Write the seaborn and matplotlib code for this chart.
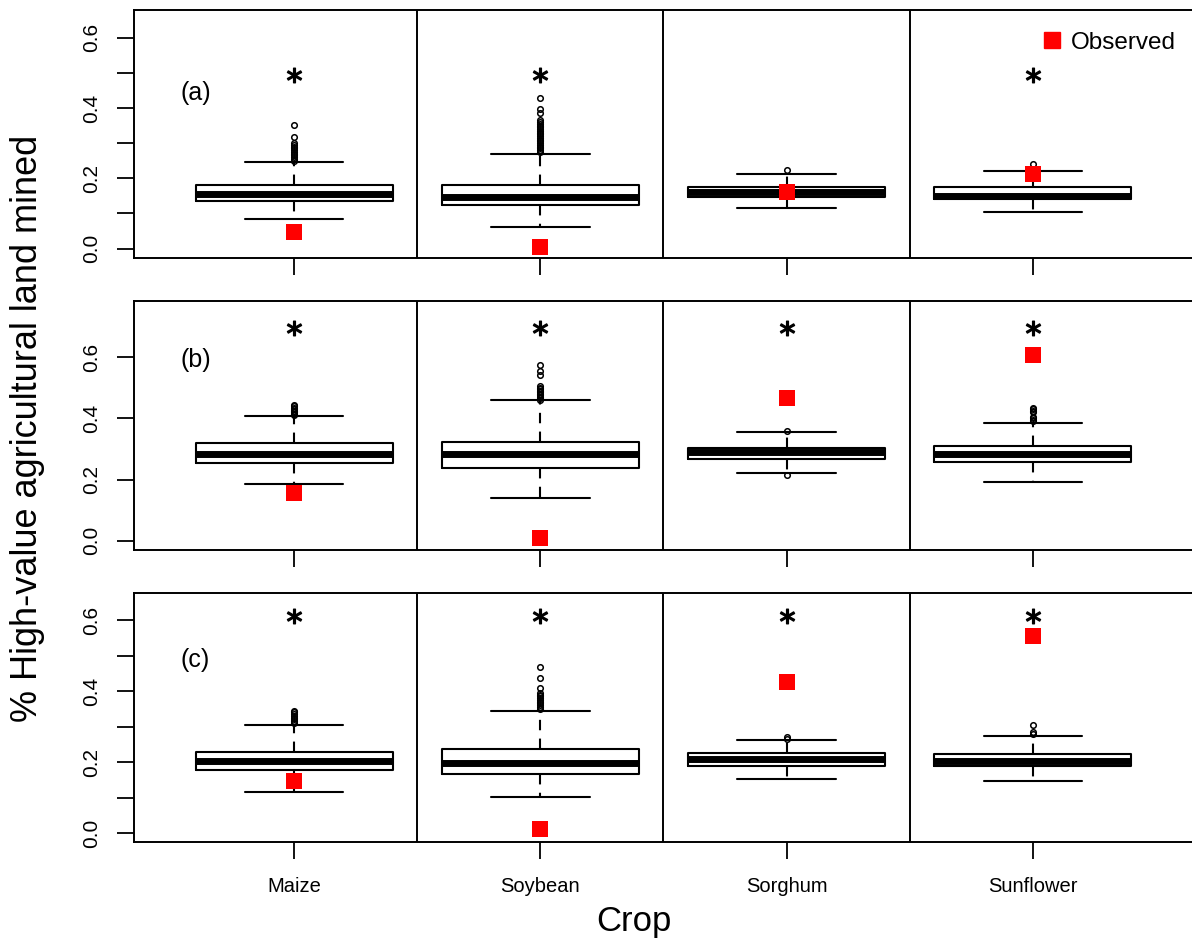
import numpy as np
import matplotlib
matplotlib.use("Agg")
import matplotlib.pyplot as plt
from matplotlib.lines import Line2D
import seaborn as sns

# crops along the x axis
crops = ["Maize", "Soybean", "Sorghum", "Sunflower"]
panel_labels = ["(a)", "(b)", "(c)"]

# panel (a): box statistics per crop
a_q1 = [0.134, 0.123, 0.146, 0.140]
a_med = [0.154, 0.148, 0.160, 0.150]
a_q3 = [0.180, 0.182, 0.174, 0.174]
a_lo = [0.083, 0.060, 0.114, 0.103]
a_hi = [0.245, 0.270, 0.212, 0.220]
a_obs = [0.046, 0.003, 0.160, 0.212]
a_fliers = [
    [0.250, 0.255, 0.260, 0.265, 0.270, 0.275, 0.280, 0.285, 0.290, 0.295, 0.300, 0.317, 0.351],
    [0.275, 0.280, 0.285, 0.290, 0.295, 0.300, 0.305, 0.310, 0.315, 0.320, 0.325, 0.330,
     0.335, 0.340, 0.345, 0.350, 0.355, 0.360, 0.365, 0.385, 0.397, 0.428],
    [0.223],
    [0.240],
]
a_stars = ["Maize", "Soybean", "Sunflower"]
a_star_y = 0.494

# panel (b)
b_q1 = [0.254, 0.238, 0.267, 0.258]
b_med = [0.283, 0.283, 0.290, 0.283]
b_q3 = [0.319, 0.323, 0.304, 0.311]
b_lo = [0.186, 0.140, 0.222, 0.193]
b_hi = [0.407, 0.459, 0.355, 0.384]
b_obs = [0.156, 0.010, 0.466, 0.606]
b_fliers = [
    [0.410, 0.415, 0.420, 0.425, 0.430, 0.435, 0.440, 0.445],
    [0.460, 0.465, 0.470, 0.475, 0.480, 0.485, 0.490, 0.495, 0.500, 0.505, 0.540, 0.555, 0.573],
    [0.360, 0.214],
    [0.390, 0.395, 0.400, 0.405, 0.420, 0.425, 0.430, 0.435],
]
b_stars = ["Maize", "Soybean", "Sorghum", "Sunflower"]
b_star_y = 0.695

# panel (c)
c_q1 = [0.177, 0.166, 0.189, 0.189]
c_med = [0.203, 0.197, 0.210, 0.202]
c_q3 = [0.228, 0.237, 0.225, 0.223]
c_lo = [0.115, 0.101, 0.152, 0.146]
c_hi = [0.304, 0.344, 0.262, 0.273]
c_obs = [0.146, 0.011, 0.425, 0.555]
c_fliers = [
    [0.310, 0.315, 0.320, 0.325, 0.330, 0.335, 0.340, 0.345],
    [0.350, 0.355, 0.360, 0.365, 0.370, 0.375, 0.380, 0.385, 0.390, 0.395, 0.409, 0.437, 0.468],
    [0.265, 0.270],
    [0.280, 0.285, 0.305],
]
c_stars = ["Maize", "Soybean", "Sorghum", "Sunflower"]
c_star_y = 0.611

panels = [
    (a_q1, a_med, a_q3, a_lo, a_hi, a_obs, a_fliers, a_stars, a_star_y),
    (b_q1, b_med, b_q3, b_lo, b_hi, b_obs, b_fliers, b_stars, b_star_y),
    (c_q1, c_med, c_q3, c_lo, c_hi, c_obs, c_fliers, c_stars, c_star_y),
]
y_limits = [(-0.027, 0.679), (-0.030, 0.784), (-0.025, 0.676)]
y_ticks = [np.arange(0, 0.61, 0.1), np.arange(0, 0.61, 0.2), np.arange(0, 0.61, 0.1)]
label_y = [0.442, 0.590, 0.487]

sns.set_style("ticks")
plt.rcParams["font.family"] = ["Liberation Sans", "DejaVu Sans"]
plt.rcParams["text.color"] = "black"
plt.rcParams["xtick.color"] = "black"
plt.rcParams["ytick.color"] = "black"
plt.rcParams["axes.labelcolor"] = "black"

W, H = 1192, 944
fig = plt.figure(figsize=(W / 100, H / 100), dpi=100)
rows_px = [(10, 258), (300.7, 550), (593, 842)]
pos = np.arange(len(crops))

for r, (q1, med, q3, lo, hi, obs, fliers, stars, star_y) in enumerate(panels):
    top, bot = rows_px[r]
    ax = fig.add_axes([134 / W, 1 - bot / H, 1059 / W, (bot - top) / H])

    stats = [dict(q1=q1[i], med=med[i], q3=q3[i], whislo=lo[i], whishi=hi[i],
                  fliers=fliers[i]) for i in range(len(crops))]
    ax.bxp(stats, positions=pos, widths=0.8, capwidths=0.4, manage_ticks=False,
           boxprops=dict(color="black", linewidth=1.5),
           medianprops=dict(color="black", linewidth=5, solid_capstyle="butt"),
           whiskerprops=dict(color="black", linewidth=1.5, linestyle=(0, (5, 4))),
           capprops=dict(color="black", linewidth=1.5),
           flierprops=dict(marker="o", markerfacecolor="none", markeredgecolor="black",
                           markersize=4, markeredgewidth=1.1))

    # observed values
    sns.scatterplot(x=pos, y=obs, marker="s", color="red", s=130, linewidth=0,
                    ax=ax, zorder=5, legend=False)

    # significance asterisks
    star_x = [crops.index(c) for c in stars]
    sns.scatterplot(x=star_x, y=[star_y] * len(star_x), marker="$*$", color="black",
                    s=110, edgecolor="black", linewidth=1.0, ax=ax, legend=False)

    # separators between crops
    for i in range(len(crops) - 1):
        ax.axvline(i + 0.5, color="black", linewidth=1.4)

    ax.text(-0.4, label_y[r], panel_labels[r], fontsize=18, ha="center", va="center")

    ax.set_xlim(-0.65, 3.65)
    ax.set_ylim(*y_limits[r])
    ax.set_xticks(pos)
    if r == 2:
        ax.set_xticklabels(crops)
    else:
        ax.set_xticklabels([])
    ticks = y_ticks[r]
    ax.set_yticks(ticks)
    ax.set_yticklabels([f"{t:.1f}" if round(t * 10) % 2 == 0 else "" for t in ticks],
                       rotation=90, va="center")
    ax.tick_params(axis="both", direction="out", length=12, width=1.3, color="black")
    ax.tick_params(axis="y", labelsize=15, pad=12)
    ax.tick_params(axis="x", labelsize=14.5, pad=13)
    for s in ax.spines.values():
        s.set_visible(True)
        s.set_color("black")
        s.set_linewidth(1.4)

    if r == 0:
        handle = Line2D([], [], marker="s", color="red", linestyle="none", markersize=11.5)
        ax.legend(handles=[handle], labels=["Observed"], loc="upper right", frameon=False,
                  fontsize=17.5, handletextpad=0.2, borderaxespad=0, handlelength=1.2,
                  bbox_to_anchor=(1186 / W, 1 - 22 / H), bbox_transform=fig.transFigure)

fig.text(28 / W, 1 - 428 / H, "% High-value agricultural land mined", rotation=90,
         fontsize=26, ha="center", va="center")
fig.text(634 / W, 1 - 922 / H, "Crop", fontsize=25, ha="center", va="center")

fig.savefig("out.png", dpi=100)
